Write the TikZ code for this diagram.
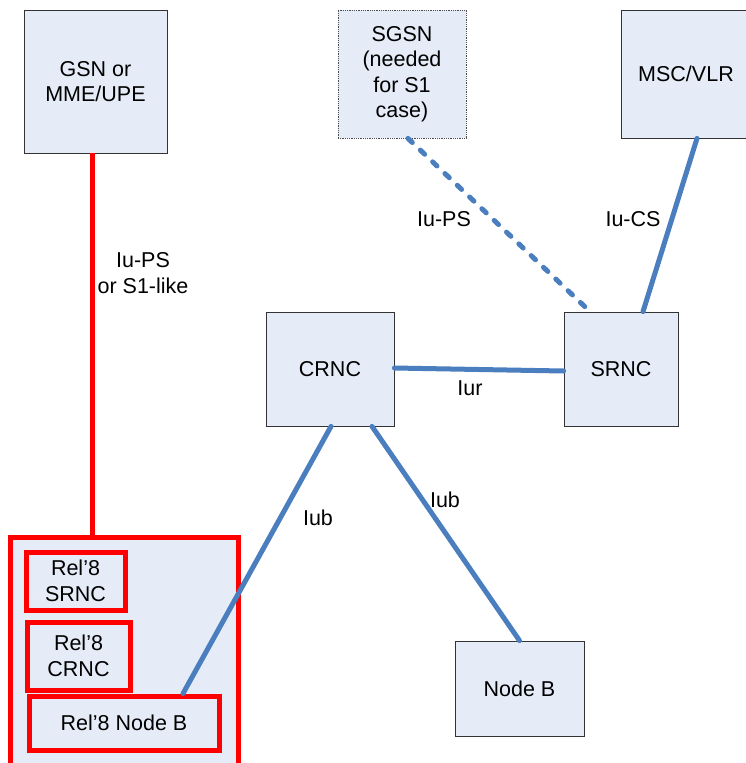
\documentclass[tikz,border=0pt]{standalone}
\usepackage{fontspec}
\setmainfont{Liberation Sans}
\usetikzlibrary{calc,shadows}
\definecolor{boxfill}{RGB}{230,236,247}
\definecolor{linkblue}{RGB}{74,126,190}
\definecolor{relred}{RGB}{255,0,0}
\begin{document}
\begin{tikzpicture}[x=1pt,y=-1pt,
  every node/.style={font=\fontsize{21.5}{25.5}\selectfont},
  netbox/.style={draw=black!80, line width=0.8pt, fill=boxfill, inner sep=0pt, align=center,
    drop shadow={shadow xshift=1pt, shadow yshift=-1pt, fill=black!35, opacity=1}},
  dotbox/.style={draw=black!70, line width=0.8pt, densely dotted, fill=boxfill, inner sep=0pt, align=center},
  redbox/.style={draw=relred, line width=5pt, fill=boxfill, inner sep=0pt, align=center},
  blueline/.style={draw=linkblue, line width=5pt, line cap=round},
  dashline/.style={blueline, dash pattern=on 6pt off 11pt},
  redline/.style={draw=relred, line width=5pt},
  lbl/.style={align=center, inner sep=0pt}]
\useasboundingbox (0,0) rectangle (746,763);
\clip (0,0) rectangle (746,763);
\fill[white] (0,0) rectangle (746,763);

% top boxes
\node[netbox, minimum width=143pt, minimum height=143pt] (gsn) at (95.5,81.5) {GSN or\\MME/UPE};
\node[dotbox, minimum width=128pt, minimum height=128pt] (sgsn) at (402,74) {SGSN\\(needed\\for S1\\case)};
\node[netbox, minimum width=130pt, minimum height=128pt] (msc) at (686,74) {MSC/VLR};

% RNCs
\node[netbox, minimum width=128pt, minimum height=114pt] (crnc) at (330,369) {CRNC};
\node[netbox, minimum width=114pt, minimum height=114pt] (srnc) at (621,369) {SRNC};
\node[netbox, minimum width=129pt, minimum height=95pt] (nodeb) at (519.5,688.5) {Node B};

% Rel'8 node
\node[redbox, minimum width=228pt, minimum height=250pt] (big) at (124,662) {};
\node[redbox, minimum width=99pt, minimum height=58pt] (r8s) at (75.5,581) {Rel’8\\SRNC};
\node[redbox, minimum width=103pt, minimum height=68pt] (r8c) at (78.5,656) {Rel’8\\CRNC};
\node[redbox, minimum width=190pt, minimum height=54pt] (r8n) at (124,723) {Rel’8 Node B};

% connectors
\coordinate (gsnout) at ([xshift=-3.5pt]gsn.south);
\draw[redline] (gsnout) -- (gsnout |- big.north);
\draw[dashline] ([xshift=6pt]sgsn.south) -- ([xshift=-31pt]srnc.north);
\draw[blueline] ([xshift=11pt]msc.south) -- ([xshift=22pt]srnc.north);
\draw[blueline] ([yshift=1pt]crnc.east) -- ([yshift=-2pt]srnc.west);
\draw[blueline] ([xshift=1pt]crnc.south) -- ([xshift=59pt]r8n.north);
\draw[blueline] ([xshift=42pt]crnc.south) -- (nodeb.north);

% labels
\node[lbl] (l1) at (143,273) {Iu-PS\\or S1-like};
\node[lbl] (l2) at (444,219) {Iu-PS};
\node[lbl] (l3) at (633,219) {Iu-CS};
\node[lbl] (l4) at (470,388) {Iur};
\node[lbl] (l5) at (318,518) {Iub};
\node[lbl] (l6) at (445,500) {Iub};
\end{tikzpicture}
\end{document}
